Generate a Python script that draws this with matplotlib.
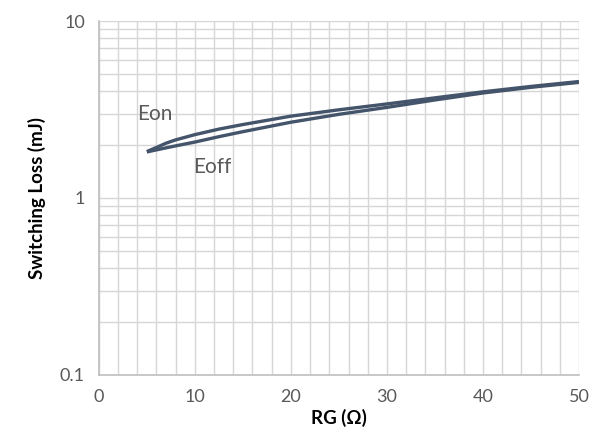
import matplotlib.pyplot as plt
from matplotlib.ticker import FixedLocator, LogLocator, NullFormatter

rg = [5, 6, 7, 8, 10, 12.5, 15, 20, 25, 30, 35, 40, 45, 50]
eon = [1.83, 1.93, 2.04, 2.13, 2.28, 2.45, 2.6, 2.9, 3.15, 3.4, 3.68, 3.98, 4.27, 4.55]
eoff = [1.82, 1.87, 1.92, 1.97, 2.07, 2.22, 2.37, 2.68, 2.97, 3.25, 3.58, 3.92, 4.22, 4.5]

line_color = "#44546a"
grid_color = "#d6d6d6"
text_color = "#595959"

plt.rcParams['font.family'] = ['Lato', 'DejaVu Sans']

fig = plt.figure(figsize=(5.92, 4.38), dpi=100)
ax = fig.add_axes([0.167, 0.144, 0.811, 0.808])

ax.plot(rg, eon, color=line_color, lw=2.4, solid_capstyle='butt')
ax.plot(rg, eoff, color=line_color, lw=2.4, solid_capstyle='butt')

ax.set_yscale('log')
ax.set_xlim(0, 50)
ax.set_ylim(0.1, 10)

ax.xaxis.set_major_locator(FixedLocator([0, 10, 20, 30, 40, 50]))
ax.xaxis.set_minor_locator(FixedLocator(range(0, 51, 2)))
ax.yaxis.set_major_locator(FixedLocator([0.1, 1, 10]))
ax.yaxis.set_minor_locator(LogLocator(base=10, subs=range(2, 10)))
ax.yaxis.set_minor_formatter(NullFormatter())
ax.set_yticklabels(["0.1", "1", "10"])

ax.grid(True, which='both', color=grid_color, lw=1.0)
ax.set_axisbelow(True)
ax.tick_params(which='both', length=0, labelsize=13, labelcolor=text_color, pad=10)

for side in ['top', 'right']:
    ax.spines[side].set_visible(False)
for side in ['left', 'bottom']:
    ax.spines[side].set_color("#bfbfbf")
    ax.spines[side].set_linewidth(1.2)

ax.text(4.0, 2.98, "Eon", fontsize=15, color=text_color, va='center')
ax.text(9.8, 1.50, "Eoff", fontsize=15, color=text_color, va='center')

ax.set_xlabel("RG (Ω)", fontsize=13.5, fontweight='bold', labelpad=3)
ax.set_ylabel("Switching Loss (mJ)", fontsize=13.5, fontweight='bold', labelpad=10)

fig.savefig("out.png", dpi=100)
